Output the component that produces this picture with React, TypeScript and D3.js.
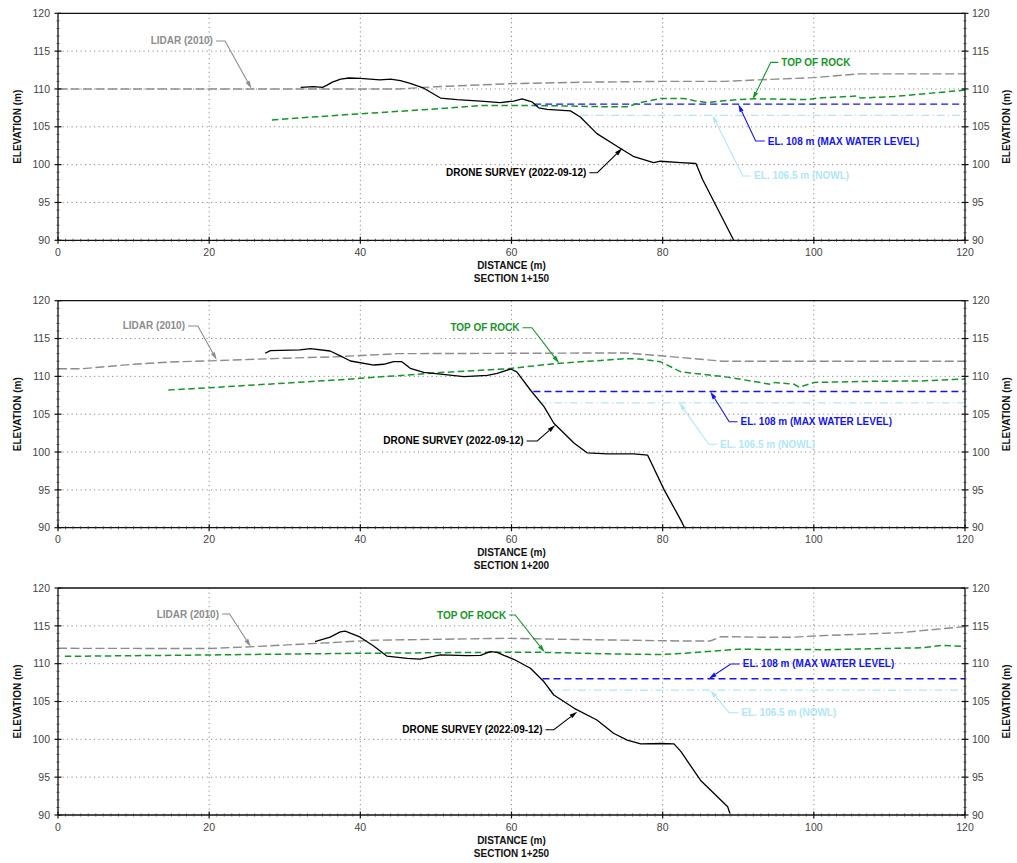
import React from "react";
import * as d3 from "d3";

// ---------- data ----------
const DIST_TICKS = [0, 20, 40, 60, 80, 100, 120];
const ELEV_TICKS = [90, 95, 100, 105, 110, 115, 120];
const SECTION_NAMES = ["SECTION 1+150", "SECTION 1+200", "SECTION 1+250"];

const MAX_WATER_LEVEL = 108;
const NOWL_LEVEL = 106.5;
const MAX_WL_START = [63.0, 62.9, 64.1];
const NOWL_START = [69.1, 63.6, 64.7];

const LIDAR_150: [number, number][] = [[0, 110], [45, 110], [50, 110.3], [60, 110.7], [70, 110.9], [80, 111], [88, 111], [95, 111.3], [100, 111.5], [106, 112], [120, 112]];
const DRONE_150: [number, number][] = [[32.1, 110.2], [33.8, 110.3], [35, 110.2], [35.6, 110.5], [36.3, 110.9], [37.4, 111.3], [38.5, 111.45], [40, 111.4], [42.6, 111.2], [44, 111.3], [45.3, 111.1], [46.6, 110.75], [48.4, 110.1], [50.6, 108.8], [52.8, 108.6], [55.9, 108.4], [58.5, 108.2], [60.3, 108.4], [61.4, 108.7], [62.7, 108.3], [63.6, 107.5], [64.7, 107.3], [67.8, 107.1], [69.1, 106.3], [71.3, 104.1], [74, 102.4], [76.2, 101.05], [78.8, 100.26], [79.7, 100.45], [82.4, 100.26], [84.4, 100.15], [85.3, 98.0], [89.4, 90]];
const ROCK_150: [number, number][] = [[28.3, 105.9], [37.35, 106.55], [50.6, 107.4], [55.9, 107.8], [62.9, 107.8], [67.8, 107.75], [71.8, 107.66], [75.3, 107.66], [77.1, 108.2], [79.7, 108.75], [82.8, 108.75], [84.2, 108.45], [85.9, 108.2], [88.6, 108.5], [92.1, 108.7], [99.1, 108.6], [100.5, 108.8], [105.8, 109.07], [106.2, 108.8], [110.6, 109.0], [120, 109.85]];

const LIDAR_200: [number, number][] = [[0, 111], [3, 111], [10, 111.6], [15, 111.9], [20, 112.05], [30, 112.4], [37, 112.6], [45, 113], [60, 113.05], [75, 113.1], [80, 112.7], [88, 112], [100, 112], [120, 112]];
const DRONE_200: [number, number][] = [[27.4, 113.05], [28.1, 113.4], [32, 113.5], [33.4, 113.66], [36, 113.35], [37.35, 112.7], [38.7, 112.03], [41.8, 111.5], [43.1, 111.6], [44.4, 111.94], [45.5, 111.94], [46.6, 111.06], [48.4, 110.53], [50.6, 110.3], [53.7, 109.96], [56.8, 110.14], [58.1, 110.4], [59.9, 110.97], [60.7, 110.6], [62.5, 108.2], [64.3, 106], [65.6, 103.8], [68.3, 101.16], [70, 99.9], [72.7, 99.75], [76.2, 99.75], [78, 99.6], [80.2, 95], [82.4, 91], [82.9, 90]];
const ROCK_200: [number, number][] = [[14.6, 108.2], [20, 108.5], [37.35, 109.55], [50.6, 110.5], [59.4, 111], [66, 111.7], [74.9, 112.33], [77, 112.3], [79.7, 111.94], [82.4, 110.6], [88.6, 109.9], [94.3, 108.95], [94.9, 109.2], [97.4, 108.95], [98.05, 108.56], [100.05, 109.2], [108, 109.35], [114.2, 109.4], [120, 109.65]];

const LIDAR_250: [number, number][] = [[0, 112.03], [20, 112.0], [25.9, 112.25], [37.35, 112.85], [41.8, 113.1], [59.4, 113.35], [68.3, 113.2], [82.4, 113.0], [86.3, 113.0], [87.7, 113.57], [93, 113.5], [97.4, 113.5], [100, 113.66], [111.5, 114.1], [120, 114.9]];
const DRONE_250: [number, number][] = [[34, 112.9], [36, 113.5], [37.35, 114.2], [38, 114.3], [40, 113.5], [41.8, 112.3], [43.5, 111], [46.2, 110.7], [47.9, 110.6], [50.6, 111.15], [54.1, 111.06], [55.9, 111.1], [57.2, 111.58], [58.1, 111.5], [59, 111.1], [60.3, 110.58], [62.5, 109.4], [64.3, 107.6], [65.6, 105.86], [68.3, 104.1], [71.3, 102.56], [73.5, 100.8], [75.3, 99.9], [77.1, 99.4], [79.7, 99.45], [81.5, 99.4], [82.4, 98.4], [85, 94.6], [88.6, 91.1], [88.9, 90.2]];
const ROCK_250: [number, number][] = [[0.9, 110.97], [20, 111.15], [37.35, 111.35], [57.2, 111.5], [63.8, 111.5], [72.7, 111.3], [79.7, 111.2], [82.4, 111.35], [89.9, 111.9], [101.8, 111.85], [114.2, 112.1], [116.8, 112.4], [120, 112.3]];

const LIDAR = [LIDAR_150, LIDAR_200, LIDAR_250];
const DRONE = [DRONE_150, DRONE_200, DRONE_250];
const ROCK = [ROCK_150, ROCK_200, ROCK_250];

// ---------- styling / layout ----------
const C_LIDAR = "#8c8c8c";
const C_ROCK = "#16962a";
const C_MAX = "#1414f0";
const C_NOWL = "#b0e6f8";
const C_DRONE = "#000000";
const FONT = "'Liberation Sans', Arial, sans-serif";

const LEFT = 58;
const RIGHT = 965;
const TOPS = [13.3, 300.7, 588];
const PH = 227;

type Label = { text: string; color: string; side: "left" | "right"; tx: number; ty: number; ex: number; ax: number; ay: number };

// annotation placement (data coordinates)
const LABELS: Label[][] = [
  [
    { text: "LIDAR (2010)", color: C_LIDAR, side: "left", tx: 20.5, ty: 116.34, ex: 22.1, ax: 25.6, ay: 110.04 },
    { text: "DRONE SURVEY (2022-09-12)", color: C_DRONE, side: "left", tx: 69.9, ty: 98.93, ex: 71.35, ax: 74.66, ay: 102.16 },
    { text: "TOP OF ROCK", color: C_ROCK, side: "right", tx: 95.7, ty: 113.52, ex: 94.3, ax: 91.9, ay: 108.6 },
    { text: "EL. 108 m (MAX WATER LEVEL)", color: C_MAX, side: "right", tx: 93.9, ty: 103.12, ex: 92.3, ax: 90.0, ay: 108 },
    { text: "EL. 106.5 m (NOWL)", color: C_NOWL, side: "right", tx: 92.1, ty: 98.5, ex: 90.6, ax: 86.6, ay: 106.5 },
  ],
  [
    { text: "LIDAR (2010)", color: C_LIDAR, side: "left", tx: 16.8, ty: 116.66, ex: 18.5, ax: 21.0, ay: 112.16 },
    { text: "TOP OF ROCK", color: C_ROCK, side: "left", tx: 61.06, ty: 116.43, ex: 62.7, ax: 66.3, ay: 111.73 },
    { text: "DRONE SURVEY (2022-09-12)", color: C_DRONE, side: "left", tx: 61.6, ty: 101.46, ex: 63.4, ax: 65.8, ay: 103.57 },
    { text: "EL. 108 m (MAX WATER LEVEL)", color: C_MAX, side: "right", tx: 90.3, ty: 104.0, ex: 88.8, ax: 86.3, ay: 108 },
    { text: "EL. 106.5 m (NOWL)", color: C_NOWL, side: "right", tx: 87.6, ty: 101.03, ex: 86.1, ax: 82.2, ay: 106.5 },
  ],
  [
    { text: "LIDAR (2010)", color: C_LIDAR, side: "left", tx: 21.3, ty: 116.56, ex: 22.7, ax: 25.5, ay: 112.24 },
    { text: "TOP OF ROCK", color: C_ROCK, side: "left", tx: 59.3, ty: 116.43, ex: 60.5, ax: 64.4, ay: 111.5 },
    { text: "DRONE SURVEY (2022-09-12)", color: C_DRONE, side: "left", tx: 64.1, ty: 101.26, ex: 65.6, ax: 68.7, ay: 103.65 },
    { text: "EL. 108 m (MAX WATER LEVEL)", color: C_MAX, side: "right", tx: 90.6, ty: 109.96, ex: 89.0, ax: 86.1, ay: 108 },
    { text: "EL. 106.5 m (NOWL)", color: C_NOWL, side: "right", tx: 90.4, ty: 103.52, ex: 88.8, ax: 86.3, ay: 106.5 },
  ],
];

function Panel({ idx }: { idx: number }) {
  const top = TOPS[idx];
  const x = d3.scaleLinear().domain([0, 120]).range([LEFT, RIGHT]);
  const y = d3.scaleLinear().domain([90, 120]).range([top + PH, top]);
  const line = d3.line<[number, number]>().x((d) => x(d[0])).y((d) => y(d[1]));
  const bottom = top + PH;
  const minorY = d3.range(90, 121, 1).filter((v) => v % 5 !== 0);
  const minorX = d3.range(0, 121, 1).filter((v) => v % 20 !== 0);
  const midY = (top + bottom) / 2;

  return (
    <g>
      {/* grid */}
      {ELEV_TICKS.filter((v) => v > 90 && v < 120).map((v) => (
        <line key={"gy" + v} x1={LEFT} x2={RIGHT} y1={y(v)} y2={y(v)} stroke="#8a8a8a" strokeWidth={1} strokeDasharray="1.2,3.3" />
      ))}
      {DIST_TICKS.filter((v) => v > 0 && v < 120).map((v) => (
        <line key={"gx" + v} x1={x(v)} x2={x(v)} y1={top} y2={bottom} stroke="#8a8a8a" strokeWidth={1} strokeDasharray="1.2,3.3" />
      ))}

      {/* series */}
      <path d={line(LIDAR[idx]) || ""} fill="none" stroke={C_LIDAR} strokeWidth={1.4} strokeDasharray="9,3.5" />
      <line x1={x(NOWL_START[idx])} x2={x(120)} y1={y(NOWL_LEVEL)} y2={y(NOWL_LEVEL)} stroke={C_NOWL} strokeWidth={1.2} strokeDasharray="8,3,1.5,3" />
      <line x1={x(MAX_WL_START[idx])} x2={x(120)} y1={y(MAX_WATER_LEVEL)} y2={y(MAX_WATER_LEVEL)} stroke={C_MAX} strokeWidth={1.4} strokeDasharray="7,4" />
      <path d={line(ROCK[idx]) || ""} fill="none" stroke={C_ROCK} strokeWidth={1.5} strokeDasharray="6.5,3.5" />
      <path d={line(DRONE[idx]) || ""} fill="none" stroke={C_DRONE} strokeWidth={1.3} strokeLinejoin="round" />

      {/* frame */}
      <line x1={LEFT} x2={RIGHT} y1={top} y2={top} stroke="#111" strokeWidth={1.3} />
      <line x1={LEFT} x2={RIGHT} y1={bottom} y2={bottom} stroke="#111" strokeWidth={1.3} />
      <line x1={LEFT} x2={LEFT} y1={top} y2={bottom} stroke="#111" strokeWidth={1.3} />
      <line x1={RIGHT} x2={RIGHT} y1={top} y2={bottom} stroke="#111" strokeWidth={1.3} />

      {/* minor ticks */}
      {minorY.map((v) => (
        <g key={"my" + v}>
          <line x1={LEFT - 1.5} x2={LEFT + 1.5} y1={y(v)} y2={y(v)} stroke="#333" strokeWidth={0.8} />
          <line x1={RIGHT - 1.5} x2={RIGHT + 1.5} y1={y(v)} y2={y(v)} stroke="#333" strokeWidth={0.8} />
        </g>
      ))}
      {minorX.map((v) => (
        <line key={"mx" + v} x1={x(v)} x2={x(v)} y1={bottom - 1.5} y2={bottom + 1.5} stroke="#333" strokeWidth={0.8} />
      ))}

      {/* major ticks + labels */}
      {ELEV_TICKS.map((v) => (
        <g key={"ty" + v}>
          <line x1={LEFT - 3.5} x2={LEFT + 3.5} y1={y(v)} y2={y(v)} stroke="#111" strokeWidth={1.2} />
          <line x1={RIGHT - 3.5} x2={RIGHT + 3.5} y1={y(v)} y2={y(v)} stroke="#111" strokeWidth={1.2} />
          <text x={LEFT - 8} y={y(v)} dy="0.35em" textAnchor="end" fontSize={10.5} fill="#444" fontFamily={FONT}>{v}</text>
          <text x={RIGHT + 7} y={y(v)} dy="0.35em" textAnchor="start" fontSize={10.5} fill="#444" fontFamily={FONT}>{v}</text>
        </g>
      ))}
      {DIST_TICKS.map((v) => (
        <g key={"tx" + v}>
          <line x1={x(v)} x2={x(v)} y1={bottom - 3.5} y2={bottom + 3.5} stroke="#111" strokeWidth={1.2} />
          <text x={x(v)} y={bottom + 12} dy="0.35em" textAnchor="middle" fontSize={10.5} fill="#444" fontFamily={FONT}>{v}</text>
        </g>
      ))}

      {/* axis titles */}
      <text transform={`translate(${17},${midY}) rotate(-90)`} textAnchor="middle" dy="0.35em" fontSize={10} fontWeight="bold" fontFamily={FONT} fill="#111">ELEVATION (m)</text>
      <text transform={`translate(${1006},${midY}) rotate(-90)`} textAnchor="middle" dy="0.35em" fontSize={10} fontWeight="bold" fontFamily={FONT} fill="#111">ELEVATION (m)</text>
      <text x={(LEFT + RIGHT) / 2} y={bottom + 25} dy="0.35em" textAnchor="middle" fontSize={10} fontWeight="bold" fontFamily={FONT} fill="#111">DISTANCE (m)</text>
      <text x={(LEFT + RIGHT) / 2} y={bottom + 38} dy="0.35em" textAnchor="middle" fontSize={10} fontWeight="bold" fontFamily={FONT} fill="#111">{SECTION_NAMES[idx]}</text>

      {/* annotations */}
      {LABELS[idx].map((l, i) => {
        const tx = x(l.tx), ty = y(l.ty), ex = x(l.ex), ax = x(l.ax), ay = y(l.ay);
        const gapX = l.side === "left" ? tx + 3 : tx - 3;
        const dx = ax - ex, dy = ay - ty;
        const len = Math.sqrt(dx * dx + dy * dy);
        const ux = dx / len, uy = dy / len;
        const hl = 8, hw = 2.2;
        const bx = ax - ux * hl, by = ay - uy * hl;
        const pts = `${ax},${ay} ${bx - uy * hw},${by + ux * hw} ${bx + uy * hw},${by - ux * hw}`;
        return (
          <g key={"lab" + i}>
            <polyline points={`${gapX},${ty} ${ex},${ty} ${bx},${by}`} fill="none" stroke={l.color} strokeWidth={1.1} />
            <polygon points={pts} fill={l.color} />
            <text x={tx} y={ty} dy="0.35em" textAnchor={l.side === "left" ? "end" : "start"} fontSize={10} fontWeight="bold" fontFamily={FONT} fill={l.color}>{l.text}</text>
          </g>
        );
      })}
    </g>
  );
}

export default function App() {
  return (
    <svg width={1017} height={863} style={{ position: "absolute", left: 0, top: 0, background: "#fff" }}>
      <rect x={0} y={0} width={1017} height={863} fill="#fff" />
      {[0, 1, 2].map((i) => (
        <Panel key={i} idx={i} />
      ))}
    </svg>
  );
}
